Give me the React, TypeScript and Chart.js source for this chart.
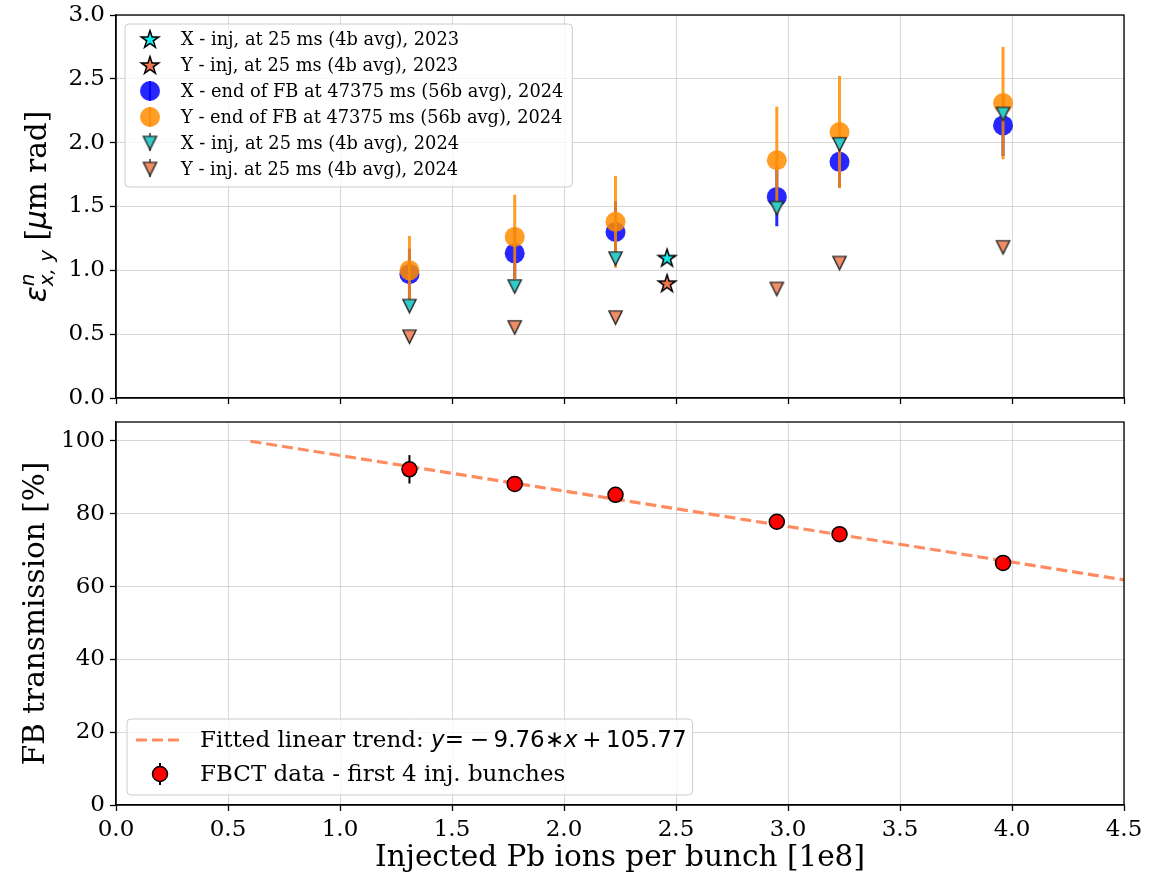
import React, { useEffect, useRef } from "react";
import { Chart, registerables } from "chart.js";

Chart.register(...registerables);

// ---------------- data ----------------
const bunchIntensity = [1.31, 1.78, 2.23, 2.95, 3.23, 3.96];
const intensity2023 = [2.46];
const emitXInj2023 = [1.1];
const emitYInj2023 = [0.9];
const emitXEndFB2024 = [0.97, 1.133, 1.3, 1.575, 1.85, 2.135];
const emitXEndFB2024Err = [0.2, 0.2, 0.24, 0.23, 0.2, 0.24];
const emitYEndFB2024 = [1.0, 1.262, 1.38, 1.862, 2.083, 2.31];
const emitYEndFB2024Err = [0.27, 0.33, 0.36, 0.42, 0.44, 0.44];
const emitXInj2024 = [0.72, 0.873, 1.092, 1.487, 1.987, 2.225];
const emitYInj2024 = [0.48, 0.553, 0.63, 0.854, 1.057, 1.18];

const fbctTransmission = [92.2, 88.2, 85.2, 77.8, 74.4, 66.5];
const fbctTransmissionErr = [3.9, 0.8, 0.8, 0.8, 0.8, 0.8];
const fitX = [0.6, 4.5];
const fitY = [99.91, 61.85];

const xTickValues = [0, 0.5, 1, 1.5, 2, 2.5, 3, 3.5, 4, 4.5];
const xTickLabels = ["0.0", "0.5", "1.0", "1.5", "2.0", "2.5", "3.0", "3.5", "4.0", "4.5"];
const emitTickValues = [0, 0.5, 1, 1.5, 2, 2.5, 3];
const emitTickLabels = ["0.0", "0.5", "1.0", "1.5", "2.0", "2.5", "3.0"];
const transTickValues = [0, 20, 40, 60, 80, 100];
const transTickLabels = ["0", "20", "40", "60", "80", "100"];

const topLegendLabels = [
  "X - inj, at 25 ms (4b avg), 2023",
  "Y - inj, at 25 ms (4b avg), 2023",
  "X - end of FB at 47375 ms (56b avg), 2024",
  "Y - end of FB at 47375 ms (56b avg), 2024",
  "X - inj, at 25 ms (4b avg), 2024",
  "Y - inj. at 25 ms (4b avg), 2024",
];
const fbctLabel = "FBCT data - first 4 inj. bunches";
const fitLabelPrefix = "Fitted linear trend: ";

const xTitle = "Injected Pb ions per bunch [1e8]";
const transTitle = "FB transmission [%]";

// ---------------- styles ----------------
const SERIF = '"DejaVu Serif", "Liberation Serif", serif';
const SANS = '"DejaVu Sans", sans-serif';
const TICK_SIZE = 23;
const TITLE_SIZE = 29.5;

const C_CYAN_STAR = "#14ecec";
const C_CORAL_STAR = "#f27650";
const C_BLUE = "rgba(0,0,255,0.85)";
const C_ORANGE = "rgba(255,140,0,0.85)";
const C_TRI_X = "#30cdc8";
const C_TRI_Y = "#f08c66";

function pts(xs: number[], ys: number[]) {
  return xs.map((x, i) => ({ x, y: ys[i] }));
}

function makeStar(fill: string, R = 9.2) {
  const s = Math.ceil(2 * R + 5);
  const c = document.createElement("canvas");
  c.width = s;
  c.height = s;
  const ctx = c.getContext("2d")!;
  const cx = s / 2,
    cy = s / 2 + 0.8;
  const r = R * 0.381966;
  ctx.beginPath();
  for (let i = 0; i < 10; i++) {
    const a = -Math.PI / 2 + (i * Math.PI) / 5;
    const rr = i % 2 === 0 ? R : r;
    const px = cx + rr * Math.cos(a),
      py = cy + rr * Math.sin(a);
    if (i === 0) ctx.moveTo(px, py);
    else ctx.lineTo(px, py);
  }
  ctx.closePath();
  ctx.fillStyle = fill;
  ctx.fill();
  ctx.lineWidth = 1.5;
  ctx.strokeStyle = "#000";
  ctx.stroke();
  return c;
}

function makeTri(fill: string, h = 6.6) {
  const s = Math.ceil(2 * h + 5);
  const c = document.createElement("canvas");
  c.width = s;
  c.height = s;
  const ctx = c.getContext("2d")!;
  const cx = s / 2,
    cy = s / 2;
  ctx.beginPath();
  ctx.moveTo(cx - h, cy - h);
  ctx.lineTo(cx + h, cy - h);
  ctx.lineTo(cx, cy + h);
  ctx.closePath();
  ctx.fillStyle = fill;
  ctx.fill();
  ctx.lineWidth = 1.4;
  ctx.strokeStyle = "#2a2a2a";
  ctx.lineJoin = "miter";
  ctx.stroke();
  return c;
}

type Run = { t: string; f: string; dy?: number; adv?: boolean };
function measureRuns(ctx: CanvasRenderingContext2D, runs: Run[]) {
  let w = 0;
  for (const r of runs) {
    ctx.font = r.f;
    if (r.adv !== false) w += ctx.measureText(r.t).width;
  }
  return w;
}
function drawRuns(ctx: CanvasRenderingContext2D, runs: Run[], x: number, y: number) {
  let cx = x;
  for (const r of runs) {
    ctx.font = r.f;
    ctx.fillText(r.t, cx, y + (r.dy || 0));
    if (r.adv !== false) cx += ctx.measureText(r.t).width;
  }
}

function legendBox(ctx: CanvasRenderingContext2D, x: number, y: number, w: number, h: number) {
  ctx.save();
  ctx.beginPath();
  if ((ctx as any).roundRect) (ctx as any).roundRect(x, y, w, h, 4);
  else ctx.rect(x, y, w, h);
  ctx.fillStyle = "rgba(255,255,255,0.8)";
  ctx.fill();
  ctx.strokeStyle = "#cccccc";
  ctx.lineWidth = 1;
  ctx.stroke();
  ctx.restore();
}

const errorBarPlugin = {
  id: "errorBars",
  beforeDatasetDraw(chart: any, args: any) {
    const ds: any = chart.data.datasets[args.index];
    if (!ds.errors) return;
    const ctx: CanvasRenderingContext2D = chart.ctx;
    const xs = chart.scales.x,
      ys = chart.scales.y;
    const ca = chart.chartArea;
    ctx.save();
    ctx.beginPath();
    ctx.rect(ca.left, ca.top, ca.right - ca.left, ca.bottom - ca.top);
    ctx.clip();
    ctx.strokeStyle = ds.errorColor;
    ctx.lineWidth = ds.errorWidth;
    ds.data.forEach((p: any, i: number) => {
      const e = ds.errors[i];
      const px = xs.getPixelForValue(p.x);
      ctx.beginPath();
      ctx.moveTo(px, ys.getPixelForValue(p.y - e));
      ctx.lineTo(px, ys.getPixelForValue(p.y + e));
      ctx.stroke();
    });
    ctx.restore();
  },
};

function frame(ctx: CanvasRenderingContext2D, ca: any) {
  ctx.save();
  ctx.strokeStyle = "#000";
  ctx.lineWidth = 1.3;
  ctx.strokeRect(ca.left, ca.top, ca.right - ca.left, ca.bottom - ca.top);
  ctx.restore();
}

function linearAxis(
  min: number,
  max: number,
  values: number[],
  labels: string[],
  showLabels: boolean,
  fit: (s: any) => void
) {
  return {
    type: "linear",
    min,
    max,
    afterBuildTicks: (s: any) => {
      s.ticks = values.map((v) => ({ value: v }));
    },
    afterFit: fit,
    ticks: {
      display: showLabels,
      callback: (v: number) => {
        const i = values.indexOf(v);
        return i >= 0 ? labels[i] : "";
      },
      font: { family: SERIF, size: TICK_SIZE },
      color: "#000",
      maxRotation: 0,
      autoSkip: false,
      padding: 5,
    },
    grid: {
      color: "rgba(176,176,176,0.5)",
      lineWidth: 1,
      tickColor: "#000",
      tickLength: 6,
      tickWidth: 1.3,
    },
    border: { display: true, color: "#000", width: 1.3 },
  };
}

export default function App() {
  const topRef = useRef<HTMLCanvasElement>(null);
  const botRef = useRef<HTMLCanvasElement>(null);

  useEffect(() => {
    const starCyan = makeStar(C_CYAN_STAR);
    const starCoral = makeStar(C_CORAL_STAR);
    const triX = makeTri(C_TRI_X);
    const triY = makeTri(C_TRI_Y);

    const yFit = (s: any) => {
      s.width = 116;
      s.paddingTop = 0;
      s.paddingBottom = 0;
    };

    const topPlugin = {
      id: "topDecor",
      afterDraw(chart: any) {
        const ctx: CanvasRenderingContext2D = chart.ctx;
        const ca = chart.chartArea;
        frame(ctx, ca);
        // legend
        ctx.save();
        const lf = `17.8px ${SERIF}`;
        ctx.font = lf;
        const maxW = Math.max(...topLegendLabels.map((l) => ctx.measureText(l).width));
        const lx = ca.left + 9,
          ly = ca.top + 9;
        const textX = lx + 56;
        const w = textX - lx + maxW + 9;
        const h = 163;
        legendBox(ctx, lx, ly, w, h);
        const mx = lx + 25;
        topLegendLabels.forEach((lab, i) => {
          const cy = ly + 15 + i * 26;
          if (i === 0 || i === 1) {
            const img = i === 0 ? starCyan : starCoral;
            ctx.drawImage(img, mx - img.width / 2, cy - img.height / 2);
          } else if (i === 2 || i === 3) {
            const col = i === 2 ? C_BLUE : C_ORANGE;
            ctx.strokeStyle = col;
            ctx.lineWidth = 2;
            ctx.beginPath();
            ctx.moveTo(mx, cy - 10);
            ctx.lineTo(mx, cy + 10);
            ctx.stroke();
            ctx.fillStyle = col;
            ctx.beginPath();
            ctx.arc(mx, cy, 10, 0, Math.PI * 2);
            ctx.fill();
          } else {
            const img = i === 4 ? triX : triY;
            ctx.strokeStyle = "#333";
            ctx.lineWidth = 1.5;
            ctx.beginPath();
            ctx.moveTo(mx, cy - 10);
            ctx.lineTo(mx, cy + 8);
            ctx.stroke();
            ctx.drawImage(img, mx - img.width / 2, cy - img.height / 2);
          }
          ctx.fillStyle = "#000";
          ctx.font = lf;
          ctx.textBaseline = "middle";
          ctx.textAlign = "left";
          ctx.fillText(lab, textX, cy + 1);
        });
        ctx.restore();
        // y title (math)
        ctx.save();
        const runs: Run[] = [
          { t: "\u03b5", f: `italic ${TITLE_SIZE}px ${SANS}` },
          { t: "n", f: `italic 20px ${SANS}`, dy: -12, adv: false },
          { t: "x, y", f: `italic 20px ${SANS}`, dy: 7 },
          { t: " [", f: `${TITLE_SIZE}px ${SERIF}` },
          { t: "\u03bc", f: `italic ${TITLE_SIZE}px ${SANS}` },
          { t: "m rad]", f: `${TITLE_SIZE}px ${SERIF}` },
        ];
        const tw = measureRuns(ctx, runs);
        ctx.translate(36, (ca.top + ca.bottom) / 2);
        ctx.rotate(-Math.PI / 2);
        ctx.fillStyle = "#000";
        ctx.textBaseline = "alphabetic";
        ctx.textAlign = "left";
        drawRuns(ctx, runs, -tw / 2, 10);
        ctx.restore();
      },
    };

    const topChart = new Chart(topRef.current!, {
      type: "scatter",
      data: {
        datasets: [
          {
            label: topLegendLabels[0],
            data: pts(intensity2023, emitXInj2023),
            pointStyle: starCyan as any,
            pointRadius: 9,
            order: 6,
          },
          {
            label: topLegendLabels[1],
            data: pts(intensity2023, emitYInj2023),
            pointStyle: starCoral as any,
            pointRadius: 9,
            order: 5,
          },
          {
            label: topLegendLabels[2],
            data: pts(bunchIntensity, emitXEndFB2024),
            pointStyle: "circle",
            pointRadius: 10,
            pointBorderWidth: 0,
            backgroundColor: C_BLUE,
            borderColor: C_BLUE,
            errors: emitXEndFB2024Err,
            errorColor: C_BLUE,
            errorWidth: 3,
            order: 4,
          } as any,
          {
            label: topLegendLabels[3],
            data: pts(bunchIntensity, emitYEndFB2024),
            pointStyle: "circle",
            pointRadius: 10,
            pointBorderWidth: 0,
            backgroundColor: C_ORANGE,
            borderColor: C_ORANGE,
            errors: emitYEndFB2024Err,
            errorColor: C_ORANGE,
            errorWidth: 3,
            order: 3,
          } as any,
          {
            label: topLegendLabels[4],
            data: pts(bunchIntensity, emitXInj2024),
            pointStyle: triX as any,
            pointRadius: 8,
            order: 2,
          },
          {
            label: topLegendLabels[5],
            data: pts(bunchIntensity, emitYInj2024),
            pointStyle: triY as any,
            pointRadius: 8,
            order: 1,
          },
        ],
      },
      options: {
        responsive: false,
        animation: false,
        events: [],
        layout: { padding: { left: 0, right: 42, top: 15, bottom: 0 } },
        plugins: { legend: { display: false }, tooltip: { enabled: false } },
        scales: {
          x: linearAxis(0, 4.5, xTickValues, xTickLabels, false, (s: any) => {
            s.height = 12;
            s.paddingLeft = 0;
            s.paddingRight = 0;
          }) as any,
          y: linearAxis(0, 3, emitTickValues, emitTickLabels, true, yFit) as any,
        },
      },
      plugins: [errorBarPlugin, topPlugin],
    });

    const botPlugin = {
      id: "botDecor",
      afterDraw(chart: any) {
        const ctx: CanvasRenderingContext2D = chart.ctx;
        const ca = chart.chartArea;
        frame(ctx, ca);
        // legend
        ctx.save();
        const fs = 23;
        const prefixF = `${fs}px ${SERIF}`;
        const mI = `italic ${fs}px ${SANS}`;
        const mR = `${fs}px ${SANS}`;
        const mathRuns: Run[] = [
          { t: fitLabelPrefix, f: prefixF },
          { t: "y", f: mI },
          { t: "=\u2005\u2212\u2009", f: mR },
          { t: "9.76", f: mR },
          { t: "\u2217", f: mR },
          { t: "x", f: mI },
          { t: "\u2009+\u2009105.77", f: mR },
        ];
        const w1 = measureRuns(ctx, mathRuns);
        ctx.font = prefixF;
        const w2 = ctx.measureText(fbctLabel).width;
        const lx = ca.left + 11;
        const lh = 76;
        const ly = ca.bottom - 10 - lh;
        const textX = lx + 73;
        const w = textX - lx + Math.max(w1, w2) + 6;
        legendBox(ctx, lx, ly, w, lh);
        const r1 = ly + 21,
          r2 = ly + 55;
        // dashed sample
        ctx.strokeStyle = "rgba(255,127,80,0.9)";
        ctx.lineWidth = 3.2;
        ctx.setLineDash([11, 5]);
        ctx.beginPath();
        ctx.moveTo(lx + 9, r1);
        ctx.lineTo(lx + 57, r1);
        ctx.stroke();
        ctx.setLineDash([]);
        // marker sample
        const mx = lx + 33;
        ctx.strokeStyle = "#000";
        ctx.lineWidth = 2;
        ctx.beginPath();
        ctx.moveTo(mx, r2 - 11);
        ctx.lineTo(mx, r2 + 11);
        ctx.stroke();
        ctx.beginPath();
        ctx.arc(mx, r2, 7.5, 0, Math.PI * 2);
        ctx.fillStyle = "#ff0000";
        ctx.fill();
        ctx.lineWidth = 1.5;
        ctx.stroke();
        ctx.fillStyle = "#000";
        ctx.textBaseline = "middle";
        ctx.textAlign = "left";
        drawRuns(ctx, mathRuns, textX, r1 + 1);
        ctx.font = prefixF;
        ctx.fillText(fbctLabel, textX, r2 + 1);
        ctx.restore();
        // titles
        ctx.save();
        ctx.fillStyle = "#000";
        ctx.textAlign = "center";
        ctx.textBaseline = "middle";
        ctx.font = `${TITLE_SIZE}px ${SERIF}`;
        ctx.fillText(xTitle, (ca.left + ca.right) / 2, 448);
        ctx.translate(36, (ca.top + ca.bottom) / 2);
        ctx.rotate(-Math.PI / 2);
        ctx.fillText(transTitle, 0, 0);
        ctx.restore();
      },
    };

    const botChart = new Chart(botRef.current!, {
      type: "scatter",
      data: {
        datasets: [
          {
            label: "fit",
            data: pts(fitX, fitY),
            showLine: true,
            pointRadius: 0,
            borderColor: "rgba(255,127,80,0.9)",
            borderWidth: 3.2,
            borderDash: [11, 5],
            order: 2,
          },
          {
            label: fbctLabel,
            data: pts(bunchIntensity, fbctTransmission),
            pointStyle: "circle",
            pointRadius: 7.5,
            pointBorderWidth: 1.5,
            backgroundColor: "#ff0000",
            borderColor: "#000",
            errors: fbctTransmissionErr,
            errorColor: "#000",
            errorWidth: 2,
            order: 1,
          } as any,
        ],
      },
      options: {
        responsive: false,
        animation: false,
        events: [],
        layout: { padding: { left: 0, right: 42, top: 12, bottom: 0 } },
        plugins: { legend: { display: false }, tooltip: { enabled: false } },
        scales: {
          x: linearAxis(0, 4.5, xTickValues, xTickLabels, true, (s: any) => {
            s.height = 71;
            s.paddingLeft = 0;
            s.paddingRight = 0;
          }) as any,
          y: linearAxis(0, 105.2, transTickValues, transTickLabels, true, yFit) as any,
        },
      },
      plugins: [errorBarPlugin, botPlugin],
    });

    return () => {
      topChart.destroy();
      botChart.destroy();
    };
  }, []);

  return (
    <div
      style={{
        position: "absolute",
        left: 0,
        top: 0,
        width: 1166,
        height: 876,
        background: "#ffffff",
        overflow: "hidden",
      }}
    >
      <canvas ref={topRef} width={1166} height={410} style={{ position: "absolute", left: 0, top: 0 }} />
      <canvas ref={botRef} width={1166} height={466} style={{ position: "absolute", left: 0, top: 410 }} />
    </div>
  );
}
